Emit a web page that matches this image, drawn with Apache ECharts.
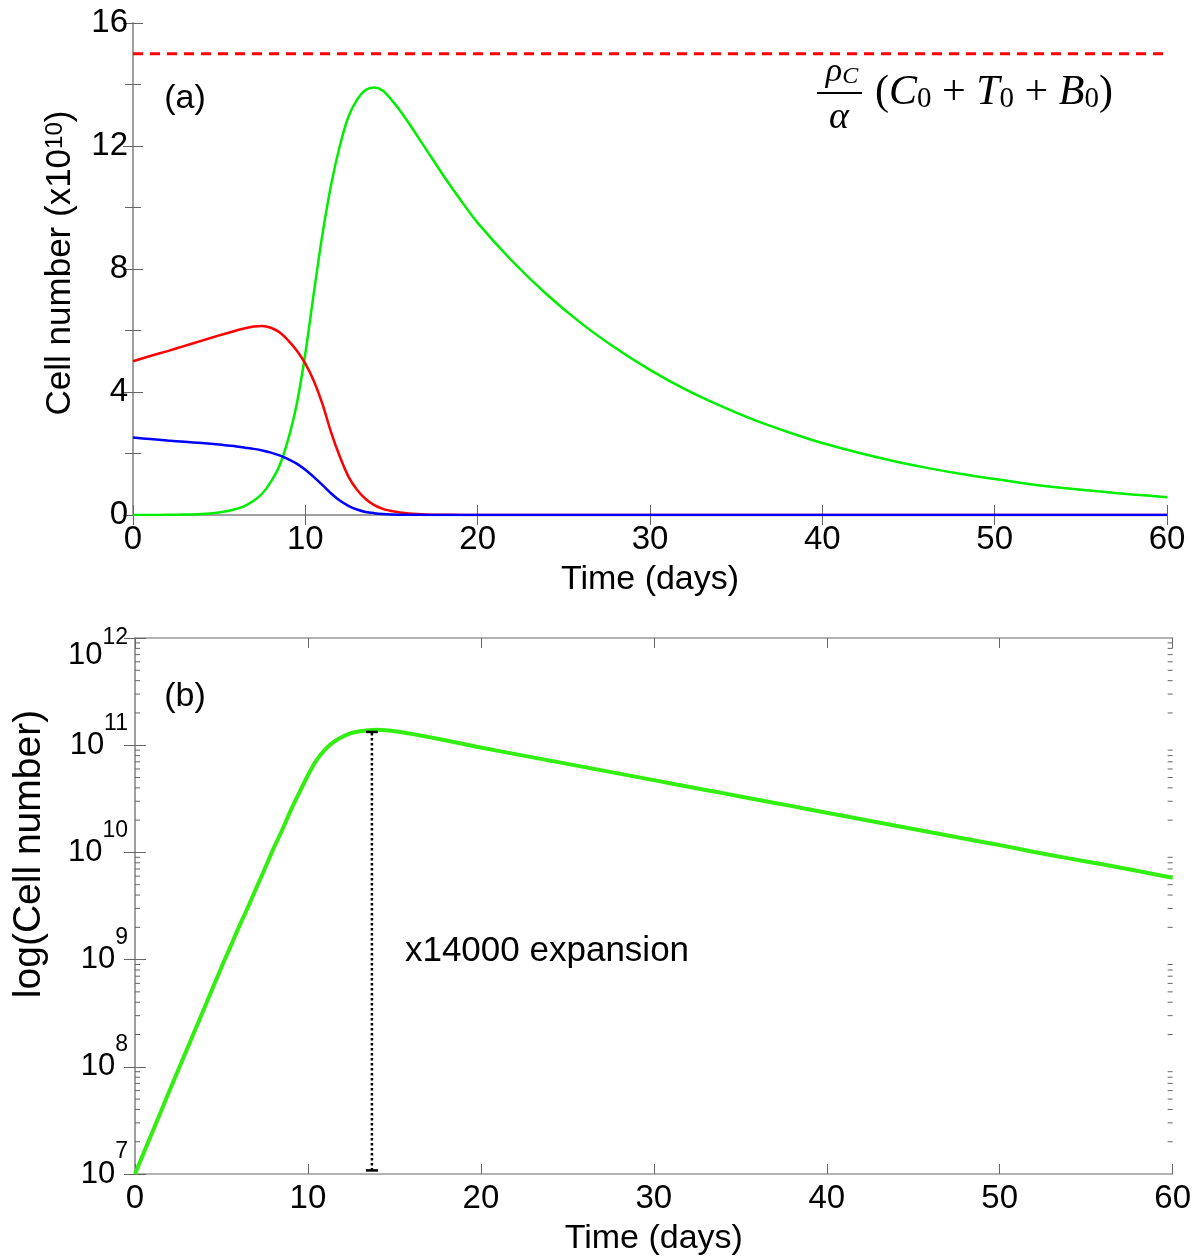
<!DOCTYPE html>
<html>
<head>
<meta charset="utf-8">
<script src="https://cdn.jsdelivr.net/npm/echarts@6/dist/echarts.min.js"></script>
<style>html,body{margin:0;padding:0;background:#fff;}#chart{width:1194px;height:1260px;}</style>
</head>
<body>
<div id="chart"></div>
<script>
// ---- data ----
const days = [0,1,2,3,4,5,5.5,6,6.5,7,7.5,8,8.5,9,9.5,10,10.5,11,11.5,12,12.5,13,13.5,14,14.5,15,15.5,16,17,18,19,20,22,24,26,28,30,32,34,36,38,40,42,44,46,48,50,52,54,56,58,60];
// green population (x10^10)
const greenCells = [0.0010,0.00245,0.006,0.0145,0.035,0.085,0.13,0.2,0.3,0.46,0.7,1.08,1.6,2.45,3.6,5.25,7.25,9.15,10.75,12.0,12.95,13.5,13.82,13.9,13.8,13.5,13.15,12.75,11.9,11.05,10.25,9.5,8.26,7.18,6.24,5.43,4.72,4.10,3.57,3.10,2.70,2.34,2.04,1.77,1.54,1.34,1.17,1.01,0.88,0.77,0.67,0.58];
// red population (x10^10)
const redCells = [5.0,5.17,5.33,5.5,5.67,5.84,5.92,6.0,6.075,6.13,6.15,6.09,5.94,5.68,5.35,4.92,4.35,3.6,2.68,1.9,1.25,0.82,0.52,0.32,0.2,0.13,0.08,0.05,0.02,0.008,0.003,0.001,0,0,0,0,0,0,0,0,0,0,0,0,0,0,0,0,0,0,0,0];
// blue population (x10^10)
const blueCells = [2.52,2.47,2.42,2.38,2.34,2.29,2.26,2.23,2.19,2.15,2.1,2.03,1.94,1.82,1.67,1.47,1.23,0.97,0.7,0.47,0.3,0.18,0.1,0.06,0.035,0.02,0.012,0.007,0.002,0,0,0,0,0,0,0,0,0,0,0,0,0,0,0,0,0,0,0,0,0,0,0];
const capacityLevel = 15;               // dashed red line (x10^10)
const scaleFactor = 1e10;               // panel (a) unit
const expansionBar = [[13.7, 1.08e7, 1.33e11]]; // [day, low, high]
const timeTicks = [0,10,20,30,40,50,60];
const linearTicks = [0,4,8,12,16];
const logTicks = [1e7,1e8,1e9,1e10,1e11,1e12];

const FONT = 'Liberation Sans, Arial, Helvetica, sans-serif';
const SERIF = 'Liberation Serif, Times New Roman, serif';
const tMin = timeTicks[0], tMax = timeTicks[timeTicks.length-1];

// log minor ticks (2..9 x 10^n)
const logMinor = [];
for (let e = 7; e < 12; e++) for (let m = 2; m <= 9; m++) logMinor.push(m * Math.pow(10, e));

const axisLineStyle = {show:true, lineStyle:{color:'#9a9a9a', width:1.5}};
const tickStyle = {show:true, inside:true, length:10, lineStyle:{color:'#666', width:1}};

function xAx(gi, pos, labels){
  return {
    type:'value', gridIndex:gi, position:pos, min:tMin, max:tMax, interval:10,
    axisLine:axisLineStyle, axisTick:tickStyle, splitLine:{show:false},
    axisLabel: labels ? {show:true, fontSize:33, fontFamily:FONT, color:'#000', margin:8, showMinLabel:true, showMaxLabel:true} : {show:false},
    name: labels ? 'Time (days)' : '', nameLocation:'middle', nameGap:48,
    nameTextStyle:{fontSize:34, fontFamily:FONT, color:'#000'}
  };
}

const option = {
  animation:false,
  backgroundColor:'#fff',
  grid:[
    {left:133, right:27, top:23, height:492},
    {left:135, right:21, top:638, height:536}
  ],
  xAxis:[ xAx(0,'bottom',true), xAx(0,'top',false), xAx(1,'bottom',true), xAx(1,'top',false) ],
  yAxis:[
    {type:'value', gridIndex:0, position:'left', min:linearTicks[0], max:linearTicks[linearTicks.length-1], interval:4,
     axisLine:axisLineStyle, axisTick:tickStyle, splitLine:{show:false},
     minorTick:{show:true, splitNumber:2, length:8, lineStyle:{color:'#666', width:1}},
     axisLabel:{fontSize:33, fontFamily:FONT, color:'#000', margin:5, showMinLabel:true, showMaxLabel:true},
     name:'{n|Cell number (x10}{s|10}{n|)}', nameLocation:'middle', nameRotate:90, nameGap:55,
     nameTextStyle:{fontSize:35, fontFamily:FONT, color:'#000', padding:[0,0,0,12], rich:{
       n:{fontSize:35, fontFamily:FONT, color:'#000', lineHeight:35, verticalAlign:'top'},
       s:{fontSize:24, fontFamily:FONT, color:'#000', lineHeight:24, verticalAlign:'top'}
     }}},
    {type:'value', gridIndex:0, position:'right', min:linearTicks[0], max:linearTicks[linearTicks.length-1], interval:4,
     axisLine:axisLineStyle, axisTick:tickStyle, splitLine:{show:false},
     minorTick:{show:true, splitNumber:2, length:8, lineStyle:{color:'#666', width:1}},
     axisLabel:{show:false}},
    {type:'log', logBase:10, gridIndex:1, position:'left', min:logTicks[0], max:logTicks[logTicks.length-1],
     axisLine:axisLineStyle, axisTick:Object.assign({}, tickStyle, {length:11}), splitLine:{show:false},
     axisLabel:{margin:7, color:'#000', showMinLabel:true, showMaxLabel:true,
       formatter:function(v){
         const e = Math.round(Math.log10(v));
         return e === 12 ? '{b2|10}{s2|' + e + '}' : '{b|10}{s|' + e + '}';
       },
       rich:{
         b:{fontSize:31, fontFamily:FONT, color:'#000', lineHeight:67, verticalAlign:'middle'},
         s:{fontSize:23, fontFamily:FONT, color:'#000', lineHeight:31, verticalAlign:'top'},
         b2:{fontSize:31, fontFamily:FONT, color:'#000', lineHeight:31, verticalAlign:'bottom'},
         s2:{fontSize:23, fontFamily:FONT, color:'#000', lineHeight:65, verticalAlign:'middle'}
       }},
     name:'log(Cell number)', nameLocation:'middle', nameRotate:90, nameGap:86,
     nameTextStyle:{fontSize:39, fontFamily:FONT, color:'#000', padding:[0,0,0,104]}},
    {type:'log', logBase:10, gridIndex:1, position:'right', min:logTicks[0], max:logTicks[logTicks.length-1],
     axisLine:axisLineStyle, axisTick:Object.assign({}, tickStyle, {length:11}), splitLine:{show:false},
     axisLabel:{show:false}}
  ],
  series:[
    {type:'line', xAxisIndex:0, yAxisIndex:0, showSymbol:false, smooth:0.3, z:3,
     data:days.map((d,i)=>[d, greenCells[i]]), lineStyle:{color:'#00ee00', width:2.5}},
    {type:'line', xAxisIndex:0, yAxisIndex:0, showSymbol:false, smooth:0.3, z:4,
     data:days.map((d,i)=>[d, redCells[i]]), lineStyle:{color:'#ff0000', width:2.5}},
    {type:'line', xAxisIndex:0, yAxisIndex:0, showSymbol:false, smooth:0.3, z:5,
     data:days.map((d,i)=>[d, blueCells[i]]), lineStyle:{color:'#0000ff', width:2.5}},
    {type:'line', xAxisIndex:0, yAxisIndex:0, showSymbol:false, z:5,
     data:[[tMin, capacityLevel],[tMax, capacityLevel]], lineStyle:{color:'#ff0000', width:3, type:[10,7]}},
    {type:'line', xAxisIndex:2, yAxisIndex:2, showSymbol:false, smooth:0.3, z:3,
     data:days.map((d,i)=>[d, greenCells[i]*scaleFactor]), lineStyle:{color:'#33ee11', width:4}},
    {type:'custom', xAxisIndex:2, yAxisIndex:2, z:4,
     data:expansionBar, encode:{x:0, y:[1,2]},
     renderItem:function(params, api){
       const x = api.value(0), lo = api.value(1), hi = api.value(2);
       const p1 = api.coord([x, lo]), p2 = api.coord([x, hi]);
       const st = {stroke:'#000', lineWidth:2.5};
       return {type:'group', children:[
         {type:'line', shape:{x1:p1[0], y1:p1[1], x2:p2[0], y2:p2[1]}, style:{stroke:'#000', lineWidth:2.5, lineDash:[2.5,2.5]}},
         {type:'line', shape:{x1:p1[0]-6, y1:p1[1], x2:p1[0]+6, y2:p1[1]}, style:st},
         {type:'line', shape:{x1:p2[0]-6, y1:p2[1], x2:p2[0]+6, y2:p2[1]}, style:st}
       ]};
     }},
    {type:'custom', xAxisIndex:2, yAxisIndex:2, z:2, silent:true,
     data:logMinor.map(v=>[tMin, v]), encode:{x:0, y:1},
     renderItem:function(params, api){
       const v = api.value(1);
       const pL = api.coord([tMin, v]), pR = api.coord([tMax, v]);
       const st = {stroke:'#666', lineWidth:1};
       return {type:'group', children:[
         {type:'line', shape:{x1:pL[0], y1:pL[1], x2:pL[0]+5, y2:pL[1]}, style:st},
         {type:'line', shape:{x1:pR[0]-5, y1:pR[1], x2:pR[0], y2:pR[1]}, style:st}
       ]};
     }}
  ],
  graphic:[
    {type:'text', x:185, y:99, style:{text:'(a)', fontSize:34, fontFamily:FONT, fill:'#000', align:'center', verticalAlign:'middle'}},
    {type:'text', x:185, y:697, style:{text:'(b)', fontSize:34, fontFamily:FONT, fill:'#000', align:'center', verticalAlign:'middle'}},
    {type:'text', x:547, y:951, style:{text:'x14000 expansion', fontSize:35, fontFamily:FONT, fill:'#000', align:'center', verticalAlign:'middle'}},
    {type:'text', x:842, y:72, style:{text:'{i|ρ}{sub|C}', align:'center', verticalAlign:'middle', rich:{
      i:{fontSize:34, fontFamily:SERIF, fontStyle:'italic', fill:'#000', lineHeight:34, padding:[0,0,4,0], verticalAlign:'top'},
      sub:{fontSize:24, fontFamily:SERIF, fontStyle:'italic', fill:'#000', lineHeight:24, verticalAlign:'bottom'}
    }}},
    {type:'line', shape:{x1:817, y1:93, x2:862, y2:93}, style:{stroke:'#000', lineWidth:2}},
    {type:'text', x:839, y:118, style:{text:'α', fontSize:38, fontFamily:SERIF, fontStyle:'italic', fill:'#000', align:'center', verticalAlign:'middle'}},
    {type:'text', x:875, y:93, style:{text:'{p|(}{i|C}{sub|0}{p| + }{i|T}{sub|0}{p| + }{i|B}{sub|0}{p|)}', align:'left', verticalAlign:'middle', rich:{
      p:{fontSize:42, fontFamily:SERIF, fill:'#000', lineHeight:42, padding:[0,0,3,0], verticalAlign:'top'},
      i:{fontSize:42, fontFamily:SERIF, fontStyle:'italic', fill:'#000', lineHeight:42, padding:[0,0,3,0], verticalAlign:'top'},
      sub:{fontSize:29, fontFamily:SERIF, fill:'#000', lineHeight:29, verticalAlign:'bottom'}
    }}}
  ]
};

const chart = echarts.init(document.getElementById('chart'), null, {renderer:'canvas'});
chart.setOption(option);
</script>
</body>
</html>
